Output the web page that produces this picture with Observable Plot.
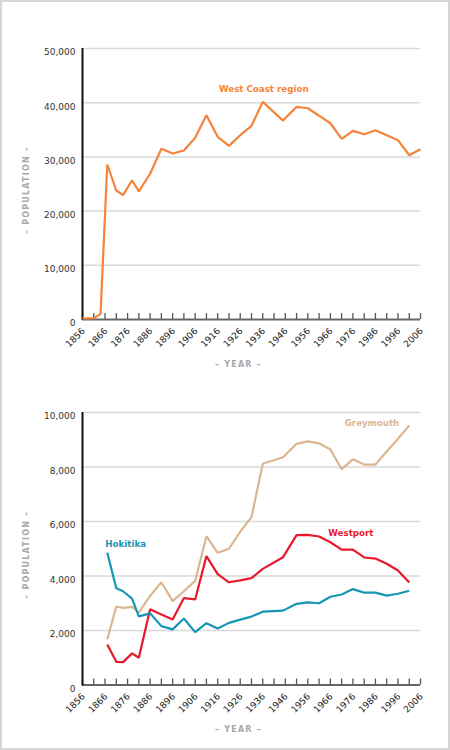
<!DOCTYPE html>
<html><head><meta charset="utf-8">
<script src="https://cdn.jsdelivr.net/npm/d3@7"></script>
<script src="https://cdn.jsdelivr.net/npm/@observablehq/plot@0.6"></script>
<style>
html,body{margin:0;padding:0;background:#fff;}
#wrap{width:450px;height:750px;box-sizing:border-box;border:2px solid #d6d6d6;background:#fff;overflow:hidden;}
#wrap svg{display:block;}
</style></head><body><div id="wrap"></div>
<script>
// ---- data ----
const regionYears = [1856, 1861, 1864, 1867, 1871, 1874, 1878, 1881, 1886, 1891, 1896, 1901, 1906, 1911, 1916, 1921, 1926, 1931, 1936, 1945, 1951, 1956, 1961, 1966, 1971, 1976, 1981, 1986, 1991, 1996, 2001, 2006];
const westCoast = [200, 250, 1000, 28600, 23800, 22950, 25700, 23630, 26890, 31490, 30630, 31180, 33520, 37680, 33700, 32040, 34000, 35730, 40150, 36700, 39230, 38970, 37600, 36210, 33330, 34800, 34180, 34920, 34000, 33080, 30310, 31420];

const townYears = [1867, 1871, 1874, 1878, 1881, 1886, 1891, 1896, 1901, 1906, 1911, 1916, 1921, 1926, 1931, 1936, 1945, 1951, 1956, 1961, 1966, 1971, 1976, 1981, 1986, 1991, 1996, 2001];
const greymouth = [1680, 2880, 2830, 2870, 2660, 3270, 3770, 3080, 3440, 3820, 5460, 4850, 5000, 5630, 6160, 8120, 8360, 8850, 8940, 8870, 8640, 7920, 8280, 8090, 8090, 8570, 9040, 9520];
const westport = [1490, 850, 840, 1160, 1000, 2780, 2590, 2400, 3190, 3140, 4730, 4070, 3770, 3840, 3920, 4260, 4690, 5500, 5510, 5450, 5240, 4970, 4970, 4680, 4640, 4450, 4200, 3760];
const hokitika = [4850, 3550, 3440, 3170, 2520, 2630, 2160, 2040, 2440, 1940, 2270, 2070, 2280, 2400, 2510, 2690, 2730, 2980, 3030, 3000, 3240, 3320, 3520, 3390, 3390, 3280, 3350, 3460];

const xLabelYears = [1856, 1866, 1876, 1886, 1896, 1906, 1916, 1926, 1936, 1946, 1956, 1966, 1976, 1986, 1996, 2006];
const xTickYears = d3.range(1856, 2007, 5);
const topYTicks = [0, 10000, 20000, 30000, 40000, 50000];
const bottomYTicks = [0, 2000, 4000, 6000, 8000, 10000];
const xTitle = "– YEAR –";
const yTitle = "– POPULATION –";

// ---- chart builder ----
const FONT = "DejaVu Sans, Verdana, sans-serif";
function makeChart({series, yTicks, margins}) {
  const W = 446, H = 373;
  const frameH = H - margins.top - margins.bottom;
  const marks = [];
  marks.push(Plot.ruleY(yTicks.filter(d => d > 0), {stroke: "#d9d9d9", strokeWidth: 1.5}));
  marks.push(Plot.tickX(xTickYears, {x: d => d, stroke: "#555", strokeWidth: 1.3, insetTop: frameH - 6}));
  marks.push(Plot.ruleY([0], {stroke: "#666", strokeWidth: 2}));
  marks.push(Plot.ruleX([1856], {stroke: "#111", strokeWidth: 2, insetBottom: -1}));
  marks.push(Plot.axisY(yTicks, {tickSize: 0, tickPadding: 7, tickFormat: d3.format(","), label: null, fontSize: 9, fill: "#333", dy: 4}));
  marks.push(Plot.axisX(xLabelYears, {tickSize: 0, tickPadding: 10, tickRotate: -45, tickFormat: d => String(d), label: null, fontSize: 9, fill: "#222", dx: 1}));
  for (const s of series) {
    const data = s.years.map((y, i) => ({year: y, value: s.values[i]}));
    marks.push(Plot.line(data, {x: "year", y: "value", stroke: s.color, strokeWidth: 2.2, strokeLinejoin: "miter", strokeLinecap: "butt"}));
  }
  for (const s of series) {
    const i = s.labelAt;
    marks.push(Plot.text([{year: s.years[i], value: s.values[i]}], {x: "year", y: "value", text: () => s.name, fill: s.color, fontSize: 8.7, fontWeight: "bold", textAnchor: s.anchor, dx: s.dx, dy: s.dy}));
  }
  marks.push(Plot.text([xTitle], {frameAnchor: "bottom", textAnchor: "middle", text: d => d, dx: -13, dy: 47, fontSize: 8, fill: "#a8a8a8", fontWeight: "bold"}));
  marks.push(Plot.text([yTitle], {frameAnchor: "left", textAnchor: "middle", text: d => d, rotate: -90, dx: -56, dy: 6, fontSize: 8, fill: "#a8a8a8", fontWeight: "bold"}));
  const svg = Plot.plot({
    width: W, height: H,
    marginLeft: margins.left, marginRight: margins.right, marginTop: margins.top, marginBottom: margins.bottom,
    x: {domain: [1856, 2006], axis: null},
    y: {domain: [0, yTicks[yTicks.length - 1]], axis: null},
    style: {fontFamily: FONT, fontSize: "9px", background: "#fff", overflow: "visible"},
    marks
  });
  d3.select(svg).selectAll("text")
    .filter(function() { const t = this.textContent; return t === xTitle || t === yTitle; })
    .attr("letter-spacing", "1.2px").style("letter-spacing", "1.2px");
  return svg;
}

const wrap = document.getElementById("wrap");
wrap.appendChild(makeChart({
  series: [{name: "West Coast region", years: regionYears, values: westCoast, color: "#f5843a", labelAt: 18, anchor: "middle", dx: 1, dy: -13}],
  yTicks: topYTicks,
  margins: {left: 80, right: 28, top: 46, bottom: 56}
}));
wrap.appendChild(makeChart({
  series: [
    {name: "Greymouth", years: townYears, values: greymouth, color: "#dcb690", labelAt: 27, anchor: "end", dx: -10, dy: -2},
    {name: "Westport", years: townYears, values: westport, color: "#e8192c", labelAt: 22, anchor: "middle", dx: -2, dy: -16},
    {name: "Hokitika", years: townYears, values: hokitika, color: "#1696b4", labelAt: 0, anchor: "start", dx: -2, dy: -9}
  ],
  yTicks: bottomYTicks,
  margins: {left: 80, right: 28, top: 37, bottom: 63.5}
}));
</script></body></html>
